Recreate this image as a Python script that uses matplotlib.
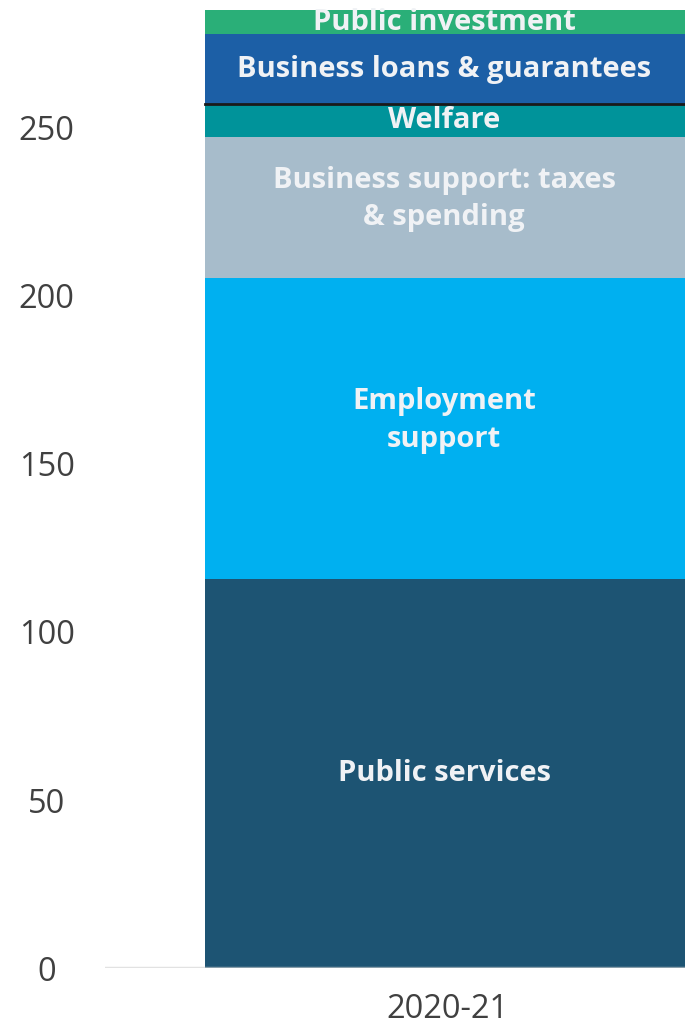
import matplotlib
matplotlib.use('Agg')
import matplotlib.pyplot as plt
import numpy as np

plt.rcParams['font.family'] = ['Open Sans', 'DejaVu Sans']

# Covid-19 support, one stacked bar, bottom to top
category = '2020-21'
segments = ['Public services', 'Employment\nsupport', 'Business support: taxes\n& spending',
            'Welfare', 'Business loans & guarantees', 'Public investment']
values = [115.7, 89.5, 42.0, 9.6, 20.8, 7.3]
colors = ['#1d5473', '#00b0f0', '#a7bccb', '#00939a', '#1c5fa6', '#2aaf78']
yticks = [0, 50, 100, 150, 200, 250]

fig = plt.figure(figsize=(6.85, 10.27), dpi=100)
ax = fig.add_axes([105 / 685, (1027 - 968.3) / 1027, 580 / 685, 968.3 / 1027])

bottoms = np.concatenate([[0], np.cumsum(values)[:-1]])
for val, bot, col, lab in zip(values, bottoms, colors, segments):
    ax.bar(0, val, bottom=bot, width=1.0, color=col, edgecolor='none', zorder=2)
    # multi-line labels sit a bit above the middle
    nudge = 6 if '\n' in lab else 0
    ax.annotate(lab, (0, bot + val / 2), xytext=(-2, nudge), textcoords='offset points',
                ha='center', va='center', color='#f0f2f5', fontsize=21,
                fontweight='bold', linespacing=1.4, zorder=4, annotation_clip=False)

# dark rule between welfare and business loans
top_welfare = sum(values[:4])
ax.plot([-0.5, 0.5], [top_welfare, top_welfare], color='#1a1a1a', lw=2, zorder=3)

ax.axhline(0, color='#d0d0d0', lw=2.5, alpha=0.6, zorder=3)

ax.set_xlim(-0.7066, 0.4917)
ax.set_ylim(0, 287.8)
ax.set_xticks([0])
ax.set_xticklabels([category])
ax.set_yticks(yticks)
ax.set_yticklabels([str(t) for t in yticks])
ax.tick_params(axis='both', length=0, labelsize=23.5, labelcolor='#404040')
ax.tick_params(axis='y', pad=42)
ax.tick_params(axis='x', pad=18)
for lbl in ax.get_yticklabels():
    lbl.set_ha('center')
for s in ax.spines.values():
    s.set_visible(False)

fig.savefig('out.png', dpi=100)
